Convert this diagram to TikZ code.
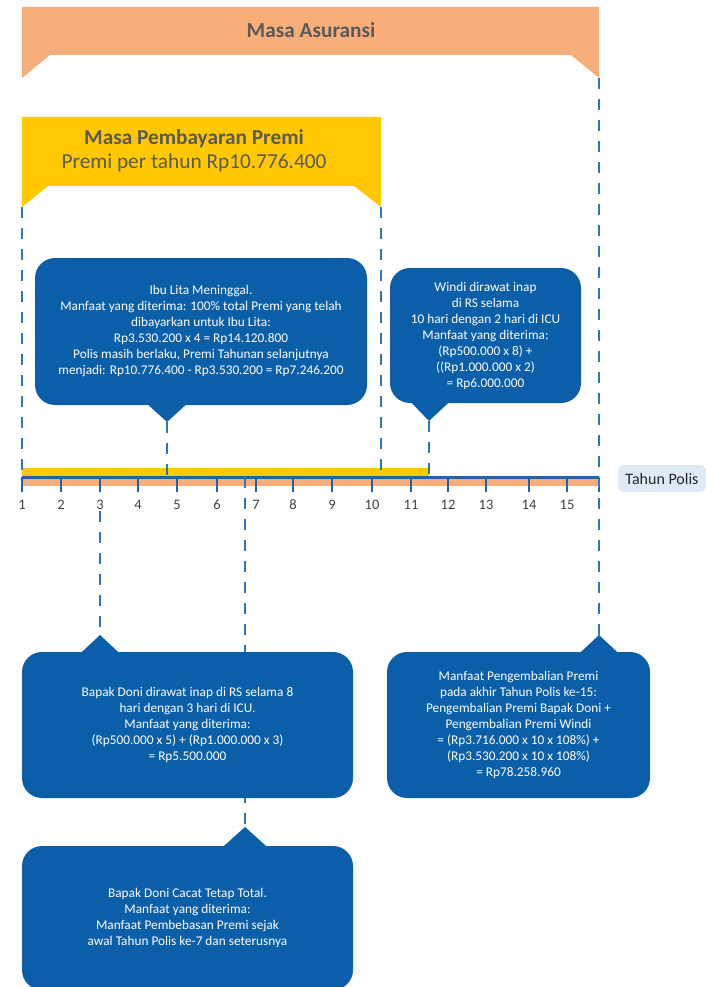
\documentclass[tikz,border=0pt]{standalone}
\usepackage{fontspec}
\setmainfont{Carlito}
\usepackage{xcolor}
\definecolor{colorInsurance}{HTML}{F8AE7A}
\definecolor{colorPremium}{HTML}{FFC800}
\definecolor{colorCallout}{HTML}{0B5FA9}
\definecolor{colorGuide}{HTML}{2E75B6}
\definecolor{colorAxis}{HTML}{1E62A8}
\definecolor{colorTitle}{HTML}{595959}
\definecolor{colorTag}{HTML}{DEEBF7}
\usetikzlibrary{positioning, calc}

\begin{document}
\begin{tikzpicture}[x=1pt, y=-1pt,
  guide/.style={colorGuide, line width=1.8pt, dash pattern=on 11pt off 10pt},
  bubble/.style={fill=colorCallout, rounded corners=20pt, text=white, align=center, inner sep=0pt, font=\fontsize{13.3}{16}\selectfont},
  yearlabel/.style={text=black!75, font=\fontsize{14.5}{16}\selectfont, inner sep=1pt}]
\useasboundingbox (0,0) rectangle (706,987);

\fill[colorInsurance] (22,7) -- (599,7) -- (599,78) -- (571,55) -- (50,55) -- (22,78) -- cycle;
\node[text=colorTitle, font=\bfseries\fontsize{21.3}{24}\selectfont] (masa) at (311,30) {Masa Asuransi};
\fill[colorPremium] (22,117) -- (381,117) -- (381,207) -- (354,186) -- (48,186) -- (22,207) -- cycle;
\node[align=center, text=colorTitle, font=\fontsize{21.3}{24}\selectfont] (premi) at (194,151) {\textbf{Masa Pembayaran Premi}\\Premi per tahun Rp10.776.400};

\coordinate (masaR) at (599,78);
\coordinate (premiL) at (22,207);
\coordinate (premiR) at (381,207);
\coordinate (axisL) at (22,477);
\coordinate (axisR) at (599,477);
\coordinate (litaTip) at (167,422);
\coordinate (windiTip) at (429,421);
\coordinate (doniTip) at (100,635);
\coordinate (refundTip) at (599,635);
\coordinate (cacatTip) at (245,827);

\fill[colorPremium] (22,468) rectangle (429,477);
\fill[colorInsurance] (22,477) rectangle (599,486);
\draw[colorAxis, line width=3pt] (axisL) -- (axisR);
\foreach \x in {22,61,100,138,177,217,256,293,332,372,411,448,486,529,567,599}
  \draw[colorAxis, line width=1.6pt] (\x,477) -- (\x,492);
\foreach \x [count=\i] in {22,61,100,138,177,217,256,293,332,372,411,448,486,529,567}
  \node[yearlabel] (y\i) at (\x,505) {\i};
\node[fill=colorTag, rounded corners=6pt, minimum width=88pt, minimum height=27pt, inner sep=0pt, text=black!85, font=\fontsize{16}{18}\selectfont] (tahun) at (662,478.5) {Tahun Polis};

\draw[guide] (premiL) -- (axisL);
\draw[guide] (premiR) -- (premiR |- axisL);
\draw[guide] (masaR) -- (refundTip);
\draw[guide] (litaTip) -- (litaTip |- axisL);
\draw[guide] (windiTip) -- (windiTip |- axisL);
\draw[guide] (y3.south) -- (doniTip);
\draw[guide] (cacatTip |- axisL) -- (cacatTip);

\node[bubble, minimum width=332pt, minimum height=147pt] (lita) at (201,331.5) {Ibu Lita Meninggal.\\Manfaat yang diterima: 100\% total Premi yang telah\\dibayarkan untuk Ibu Lita:\\Rp3.530.200 x 4 = Rp14.120.800\\Polis masih berlaku, Premi Tahunan selanjutnya\\menjadi: Rp10.776.400 - Rp3.530.200 = Rp7.246.200};
\fill[colorCallout] (litaTip) -- ($(litaTip |- lita.south)+(-19.5,-1)$) -- ($(litaTip |- lita.south)+(19.5,-1)$) -- cycle;
\node[bubble, minimum width=191pt, minimum height=135pt] (windi) at (485.5,335.5) {Windi dirawat inap\\di RS selama\\10 hari dengan 2 hari di ICU\\Manfaat yang diterima:\\(Rp500.000 x 8) +\\((Rp1.000.000 x 2)\\= Rp6.000.000};
\fill[colorCallout] (windiTip) -- ($(windiTip |- windi.south)+(-18,-1)$) -- ($(windiTip |- windi.south)+(20,-1)$) -- cycle;
\node[bubble, minimum width=331pt, minimum height=146pt] (doni) at (187.5,725) {Bapak Doni dirawat inap di RS selama 8\\hari dengan 3 hari di ICU.\\Manfaat yang diterima:\\(Rp500.000 x 5) + (Rp1.000.000 x 3)\\= Rp5.500.000};
\fill[colorCallout] (doniTip) -- ($(doniTip |- doni.north)+(-19,1)$) -- ($(doniTip |- doni.north)+(19,1)$) -- cycle;
\node[bubble, minimum width=263pt, minimum height=146pt] (refund) at (518.5,725) {Manfaat Pengembalian Premi\\pada akhir Tahun Polis ke-15:\\Pengembalian Premi Bapak Doni +\\Pengembalian Premi Windi\\= (Rp3.716.000 x 10 x 108\%) +\\(Rp3.530.200 x 10 x 108\%)\\= Rp78.258.960};
\fill[colorCallout] (refundTip) -- ($(refundTip |- refund.north)+(-19,1)$) -- ($(refundTip |- refund.north)+(19,1)$) -- cycle;
\node[bubble, minimum width=331pt, minimum height=144pt] (cacat) at (187.5,918) {Bapak Doni Cacat Tetap Total.\\Manfaat yang diterima:\\Manfaat Pembebasan Premi sejak\\awal Tahun Polis ke-7 dan seterusnya};
\fill[colorCallout] (cacatTip) -- ($(cacatTip |- cacat.north)+(-22,1)$) -- ($(cacatTip |- cacat.north)+(22,1)$) -- cycle;
\end{tikzpicture}
\end{document}
